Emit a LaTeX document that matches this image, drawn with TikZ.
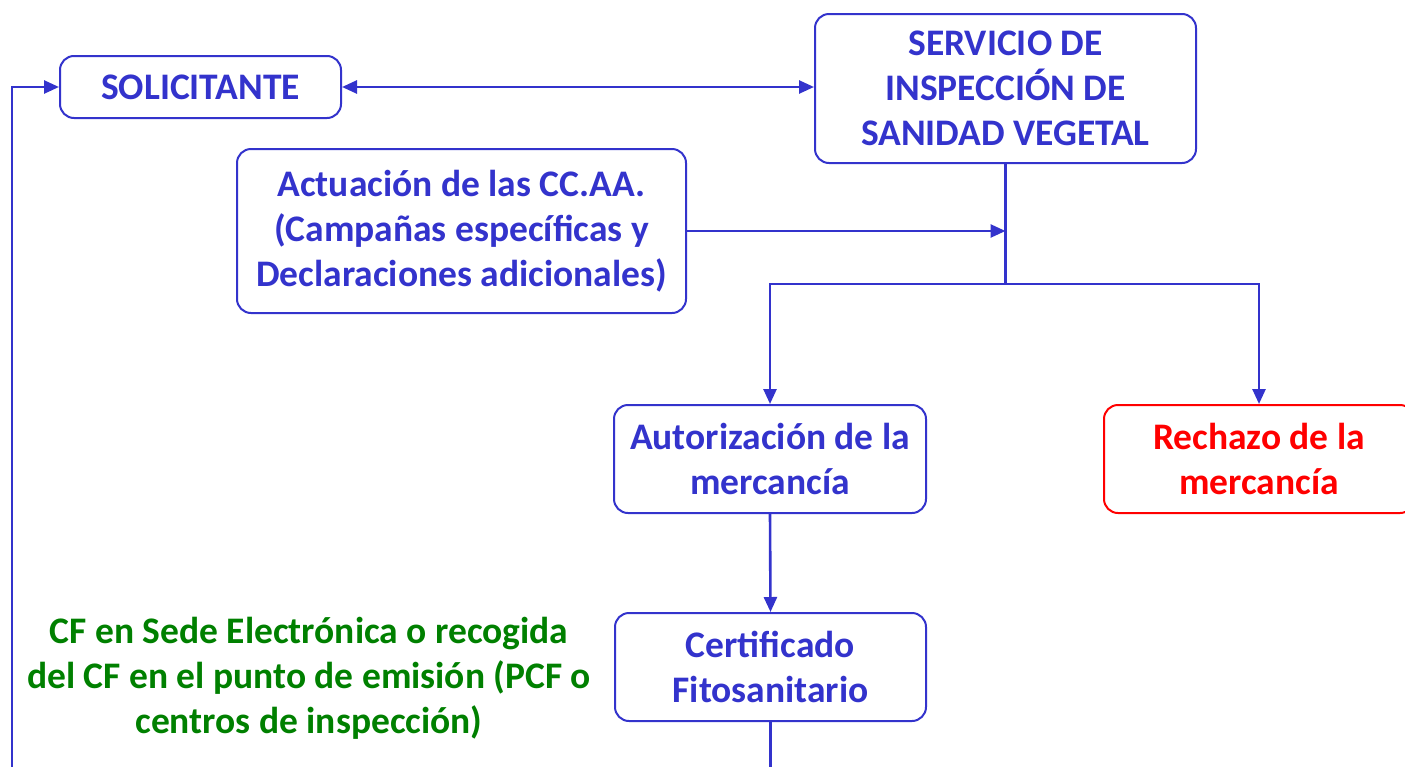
\documentclass[tikz,border=0pt]{standalone}
\usepackage{fontspec}
\setmainfont{Carlito}
\usetikzlibrary{arrows.meta}
\definecolor{cblue}{RGB}{51,51,204}
\definecolor{cred}{RGB}{255,0,0}
\definecolor{cgreen}{RGB}{0,128,0}
\begin{document}
\begin{tikzpicture}[x=1pt,y=-1pt,
  box/.style={draw=cblue,line width=2pt,rounded corners=14pt,text=cblue,
    font=\fontsize{37.5}{45}\selectfont\bfseries,align=center,inner sep=0pt},
  conn/.style={draw=cblue,line width=2.6pt},
  arr/.style={conn,-{Triangle[length=15pt,width=13pt]}},
]
\useasboundingbox (0,0) rectangle (1405,766);
\clip (0,0) rectangle (1405,766);

\node[box,minimum width=281pt,minimum height=62pt] (sol) at (200.5,87) {SOLICITANTE};
\node[box,minimum width=381pt,minimum height=149pt] (serv) at (1005.5,88.5) {SERVICIO DE\\INSPECCIÓN DE\\SANIDAD VEGETAL};
\node[box,minimum width=449pt,minimum height=164pt] (act) at (461.5,231) {Actuación de las CC.AA.\\(Campañas específicas y\\Declaraciones adicionales)};
\node[box,minimum width=312pt,minimum height=108pt] (aut) at (770,459) {Autorización de la\\mercancía};
\node[box,draw=cred,text=cred,minimum width=310pt,minimum height=108pt] (rech) at (1259,459) {Rechazo de la\\mercancía};
\node[box,minimum width=311pt,minimum height=108pt] (cert) at (770.5,667) {Certificado\\Fitosanitario};
\node[align=center,text=cgreen,font=\fontsize{37.5}{45}\selectfont\bfseries,inner sep=0pt] (cf) at (309,678)
  {CF en Sede Electrónica o recogida\\del CF en el punto de emisión (PCF o\\centros de inspección)};

\coordinate (j) at (1005.5,284);
\coordinate (lb) at (12,790);
\coordinate (cb) at (770.5,790);

\draw[conn,{Triangle[length=15pt,width=13pt]}-{Triangle[length=15pt,width=13pt]}] (sol.east) -- (sol.east -| serv.west);
\draw[conn] (serv.south) -- (j);
\draw[arr] (act.east) -- (act.east -| serv.south);
\draw[arr] (j) -| (aut.north);
\draw[arr] (j) -| (rech.north);
\draw[arr] (aut.south) -- (cert.north);
\draw[conn] (cert.south) -- (cb);
\draw[arr] (lb) |- (sol.west);
\end{tikzpicture}
\end{document}
